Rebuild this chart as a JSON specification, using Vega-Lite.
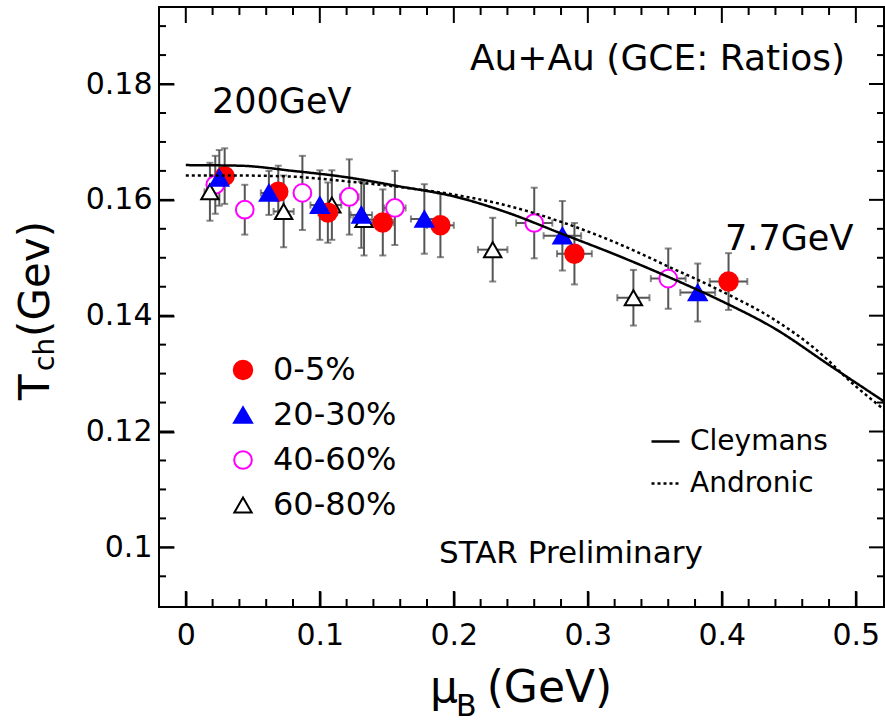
{
  "$schema": "https://vega.github.io/schema/vega-lite/v6.json",
  "width": 725,
  "height": 600,
  "autosize": {"type": "none"},
  "padding": {"left": 159, "top": 7, "right": 1, "bottom": 117},
  "background": "white",
  "config": {
    "font": "DejaVu Sans",
    "view": {"stroke": "black", "strokeWidth": 2}
  },
  "datasets": {
    "pts": [
      {"series": "40-60%", "mu": 0.022, "T": 0.1626, "muErr": 0.004, "TErr": 0.0050},
      {"series": "40-60%", "mu": 0.044, "T": 0.1583, "muErr": 0.005, "TErr": 0.0043},
      {"series": "40-60%", "mu": 0.087, "T": 0.1612, "muErr": 0.006, "TErr": 0.0064},
      {"series": "40-60%", "mu": 0.122, "T": 0.1605, "muErr": 0.007, "TErr": 0.0065},
      {"series": "40-60%", "mu": 0.156, "T": 0.1586, "muErr": 0.008, "TErr": 0.0064},
      {"series": "40-60%", "mu": 0.260, "T": 0.1560, "muErr": 0.0135, "TErr": 0.0061},
      {"series": "40-60%", "mu": 0.360, "T": 0.1464, "muErr": 0.013, "TErr": 0.0052},
      {"series": "60-80%", "mu": 0.018, "T": 0.1614, "muErr": 0.004, "TErr": 0.0050},
      {"series": "60-80%", "mu": 0.073, "T": 0.1580, "muErr": 0.0075, "TErr": 0.0062},
      {"series": "60-80%", "mu": 0.109, "T": 0.1591, "muErr": 0.007, "TErr": 0.0060},
      {"series": "60-80%", "mu": 0.133, "T": 0.1566, "muErr": 0.008, "TErr": 0.0062},
      {"series": "60-80%", "mu": 0.229, "T": 0.1514, "muErr": 0.011, "TErr": 0.0055},
      {"series": "60-80%", "mu": 0.334, "T": 0.1431, "muErr": 0.012, "TErr": 0.0048},
      {"series": "0-5%", "mu": 0.029, "T": 0.1641, "muErr": 0.004, "TErr": 0.0048},
      {"series": "0-5%", "mu": 0.069, "T": 0.1614, "muErr": 0.006, "TErr": 0.0045},
      {"series": "0-5%", "mu": 0.106, "T": 0.1578, "muErr": 0.007, "TErr": 0.0052},
      {"series": "0-5%", "mu": 0.147, "T": 0.1561, "muErr": 0.008, "TErr": 0.0057},
      {"series": "0-5%", "mu": 0.190, "T": 0.1556, "muErr": 0.010, "TErr": 0.0055},
      {"series": "0-5%", "mu": 0.290, "T": 0.1507, "muErr": 0.013, "TErr": 0.0053},
      {"series": "0-5%", "mu": 0.405, "T": 0.1459, "muErr": 0.014, "TErr": 0.0049},
      {"series": "20-30%", "mu": 0.025, "T": 0.1638, "muErr": 0.004, "TErr": 0.0048},
      {"series": "20-30%", "mu": 0.062, "T": 0.1612, "muErr": 0.006, "TErr": 0.0038},
      {"series": "20-30%", "mu": 0.100, "T": 0.1591, "muErr": 0.007, "TErr": 0.0060},
      {"series": "20-30%", "mu": 0.131, "T": 0.1574, "muErr": 0.008, "TErr": 0.0057},
      {"series": "20-30%", "mu": 0.178, "T": 0.1567, "muErr": 0.010, "TErr": 0.0060},
      {"series": "20-30%", "mu": 0.281, "T": 0.1538, "muErr": 0.014, "TErr": 0.0060},
      {"series": "20-30%", "mu": 0.382, "T": 0.1440, "muErr": 0.013, "TErr": 0.0050}
    ],
    "curves": [
      {"model": "Cleymans", "mu": 0.0, "T": 0.1660},
      {"model": "Cleymans", "mu": 0.04, "T": 0.1659},
      {"model": "Cleymans", "mu": 0.08, "T": 0.1650},
      {"model": "Cleymans", "mu": 0.12, "T": 0.1639},
      {"model": "Cleymans", "mu": 0.16, "T": 0.1623},
      {"model": "Cleymans", "mu": 0.20, "T": 0.1606},
      {"model": "Cleymans", "mu": 0.24, "T": 0.1578},
      {"model": "Cleymans", "mu": 0.28, "T": 0.1542},
      {"model": "Cleymans", "mu": 0.32, "T": 0.1506},
      {"model": "Cleymans", "mu": 0.36, "T": 0.1467},
      {"model": "Cleymans", "mu": 0.40, "T": 0.1425},
      {"model": "Cleymans", "mu": 0.44, "T": 0.1377},
      {"model": "Cleymans", "mu": 0.48, "T": 0.1315},
      {"model": "Cleymans", "mu": 0.521, "T": 0.1252},
      {"model": "Andronic", "mu": 0.0, "T": 0.1642},
      {"model": "Andronic", "mu": 0.04, "T": 0.1642},
      {"model": "Andronic", "mu": 0.08, "T": 0.1640},
      {"model": "Andronic", "mu": 0.12, "T": 0.1632},
      {"model": "Andronic", "mu": 0.16, "T": 0.1622},
      {"model": "Andronic", "mu": 0.20, "T": 0.1609},
      {"model": "Andronic", "mu": 0.24, "T": 0.1590},
      {"model": "Andronic", "mu": 0.28, "T": 0.1562},
      {"model": "Andronic", "mu": 0.32, "T": 0.1527},
      {"model": "Andronic", "mu": 0.36, "T": 0.1485},
      {"model": "Andronic", "mu": 0.40, "T": 0.1442},
      {"model": "Andronic", "mu": 0.44, "T": 0.1392},
      {"model": "Andronic", "mu": 0.47, "T": 0.1342},
      {"model": "Andronic", "mu": 0.50, "T": 0.1278},
      {"model": "Andronic", "mu": 0.521, "T": 0.1238}
    ],
    "xticks": [
      {"v": 0, "major": true}, {"v": 0.02, "major": false}, {"v": 0.04, "major": false}, {"v": 0.06, "major": false}, {"v": 0.08, "major": false},
      {"v": 0.1, "major": true}, {"v": 0.12, "major": false}, {"v": 0.14, "major": false}, {"v": 0.16, "major": false}, {"v": 0.18, "major": false},
      {"v": 0.2, "major": true}, {"v": 0.22, "major": false}, {"v": 0.24, "major": false}, {"v": 0.26, "major": false}, {"v": 0.28, "major": false},
      {"v": 0.3, "major": true}, {"v": 0.32, "major": false}, {"v": 0.34, "major": false}, {"v": 0.36, "major": false}, {"v": 0.38, "major": false},
      {"v": 0.4, "major": true}, {"v": 0.42, "major": false}, {"v": 0.44, "major": false}, {"v": 0.46, "major": false}, {"v": 0.48, "major": false},
      {"v": 0.5, "major": true}
    ],
    "yticks": [
      {"v": 0.095, "major": false}, {"v": 0.1, "major": true}, {"v": 0.105, "major": false}, {"v": 0.11, "major": false}, {"v": 0.115, "major": false},
      {"v": 0.12, "major": true}, {"v": 0.125, "major": false}, {"v": 0.13, "major": false}, {"v": 0.135, "major": false},
      {"v": 0.14, "major": true}, {"v": 0.145, "major": false}, {"v": 0.15, "major": false}, {"v": 0.155, "major": false},
      {"v": 0.16, "major": true}, {"v": 0.165, "major": false}, {"v": 0.17, "major": false}, {"v": 0.175, "major": false},
      {"v": 0.18, "major": true}, {"v": 0.185, "major": false}, {"v": 0.19, "major": false}
    ]
  },
  "resolve": {"axis": {"x": "independent", "y": "independent"}},
  "layer": [
    {
      "data": {"values": [{}]},
      "mark": {"type": "text", "text": "Au+Au (GCE: Ratios)", "align": "right", "baseline": "alphabetic", "fontSize": 36, "color": "black"},
      "encoding": {
        "x": {"datum": 0.4919, "type": "quantitative", "scale": {"domain": [-0.02, 0.521], "nice": false, "zero": false},
          "axis": {"orient": "bottom", "title": null, "values": [0, 0.1, 0.2, 0.3, 0.4, 0.5], "offset": -16, "tickSize": 16, "tickColor": "black", "tickWidth": 2, "ticks": true, "domain": false, "grid": false,
            "labelExpr": "format(datum.value, '.1~f')", "labelFont": "DejaVu Sans", "labelFontSize": 30, "labelColor": "black", "labelPadding": 13, "labelFlush": false, "labelOverlap": false, "labelBound": false}},
        "y": {"datum": 0.18242, "type": "quantitative", "scale": {"domain": [0.0897, 0.1933], "nice": false, "zero": false},
          "axis": {"orient": "left", "title": null, "values": [0.1, 0.12, 0.14, 0.16, 0.18], "offset": -15, "tickSize": 15, "tickColor": "black", "tickWidth": 2, "ticks": true, "domain": false, "grid": false,
            "labelExpr": "format(datum.value, '.2~f')", "labelFont": "DejaVu Sans", "labelFontSize": 30, "labelColor": "black", "labelPadding": 7, "labelFlush": false, "labelOverlap": false, "labelBound": false}}
      }
    },
    {
      "data": {"name": "xticks"},
      "mark": {"type": "tick", "orient": "vertical", "clip": true, "color": "black", "thickness": 2, "opacity": 1},
      "encoding": {
        "x": {"field": "v", "type": "quantitative", "scale": {"domain": [-0.02, 0.521], "nice": false, "zero": false}, "axis": null},
        "y": {"datum": 0.0897, "type": "quantitative", "scale": {"domain": [0.0897, 0.1933], "nice": false, "zero": false}, "axis": null},
        "size": {"condition": {"test": "datum.major", "value": 32}, "value": 16}
      }
    },
    {
      "data": {"name": "xticks"},
      "mark": {"type": "tick", "orient": "vertical", "clip": true, "color": "black", "thickness": 2, "opacity": 1},
      "encoding": {
        "x": {"field": "v", "type": "quantitative", "scale": {"domain": [-0.02, 0.521], "nice": false, "zero": false}, "axis": null},
        "y": {"datum": 0.1933, "type": "quantitative", "scale": {"domain": [0.0897, 0.1933], "nice": false, "zero": false}, "axis": null},
        "size": {"condition": {"test": "datum.major", "value": 32}, "value": 16}
      }
    },
    {
      "data": {"name": "yticks"},
      "mark": {"type": "tick", "orient": "horizontal", "clip": true, "color": "black", "thickness": 2, "opacity": 1},
      "encoding": {
        "x": {"datum": -0.02, "type": "quantitative", "scale": {"domain": [-0.02, 0.521], "nice": false, "zero": false}, "axis": null},
        "y": {"field": "v", "type": "quantitative", "scale": {"domain": [0.0897, 0.1933], "nice": false, "zero": false}, "axis": null},
        "size": {"condition": {"test": "datum.major", "value": 30}, "value": 14}
      }
    },
    {
      "data": {"name": "yticks"},
      "mark": {"type": "tick", "orient": "horizontal", "clip": true, "color": "black", "thickness": 2, "opacity": 1},
      "encoding": {
        "x": {"datum": 0.521, "type": "quantitative", "scale": {"domain": [-0.02, 0.521], "nice": false, "zero": false}, "axis": null},
        "y": {"field": "v", "type": "quantitative", "scale": {"domain": [0.0897, 0.1933], "nice": false, "zero": false}, "axis": null},
        "size": {"condition": {"test": "datum.major", "value": 30}, "value": 14}
      }
    },
    {
      "data": {"values": [{}]},
      "mark": {"type": "text", "text": "200GeV", "align": "left", "baseline": "alphabetic", "fontSize": 35, "color": "black"},
      "encoding": {
        "x": {"datum": 0.0196, "type": "quantitative", "scale": {"domain": [-0.02, 0.521], "nice": false, "zero": false}, "axis": null},
        "y": {"datum": 0.175, "type": "quantitative", "scale": {"domain": [0.0897, 0.1933], "nice": false, "zero": false}, "axis": null}
      }
    },
    {
      "data": {"values": [{}]},
      "mark": {"type": "text", "text": "7.7GeV", "align": "left", "baseline": "alphabetic", "fontSize": 35, "color": "black"},
      "encoding": {
        "x": {"datum": 0.4024, "type": "quantitative", "scale": {"domain": [-0.02, 0.521], "nice": false, "zero": false}, "axis": null},
        "y": {"datum": 0.15134, "type": "quantitative", "scale": {"domain": [0.0897, 0.1933], "nice": false, "zero": false}, "axis": null}
      }
    },
    {
      "data": {"values": [{}]},
      "mark": {"type": "text", "text": "STAR Preliminary", "align": "left", "baseline": "alphabetic", "fontSize": 31, "color": "black"},
      "encoding": {
        "x": {"datum": 0.1889, "type": "quantitative", "scale": {"domain": [-0.02, 0.521], "nice": false, "zero": false}, "axis": null},
        "y": {"datum": 0.0973, "type": "quantitative", "scale": {"domain": [0.0897, 0.1933], "nice": false, "zero": false}, "axis": null}
      }
    },
    {
      "data": {"name": "pts"},
      "mark": {"type": "errorbar", "color": "#555555", "thickness": 2, "ticks": {"size": 7, "color": "#555555"}},
      "encoding": {
        "x": {"field": "mu", "type": "quantitative", "scale": {"domain": [-0.02, 0.521], "nice": false, "zero": false}, "axis": null},
        "y": {"field": "T", "type": "quantitative", "scale": {"domain": [0.0897, 0.1933], "nice": false, "zero": false}, "axis": null},
        "yError": {"field": "TErr"}
      }
    },
    {
      "data": {"name": "pts"},
      "mark": {"type": "errorbar", "color": "#555555", "thickness": 2, "ticks": {"size": 7, "color": "#555555"}},
      "encoding": {
        "x": {"field": "mu", "type": "quantitative", "scale": {"domain": [-0.02, 0.521], "nice": false, "zero": false}, "axis": null},
        "xError": {"field": "muErr"},
        "y": {"field": "T", "type": "quantitative", "scale": {"domain": [0.0897, 0.1933], "nice": false, "zero": false}, "axis": null}
      }
    },
    {
      "data": {"name": "pts"},
      "mark": {"type": "point", "opacity": 1, "strokeWidth": 2},
      "encoding": {
        "x": {"field": "mu", "type": "quantitative", "scale": {"domain": [-0.02, 0.521], "nice": false, "zero": false}, "axis": null},
        "y": {"field": "T", "type": "quantitative", "scale": {"domain": [0.0897, 0.1933], "nice": false, "zero": false}, "axis": null},
        "shape": {"field": "series", "type": "nominal", "scale": {"domain": ["0-5%", "20-30%", "40-60%", "60-80%"], "range": ["circle", "triangle-up", "circle", "triangle-up"]},
          "legend": {"orient": "none", "legendX": 68, "legendY": 347, "title": null, "labelFontSize": 32, "labelFont": "DejaVu Sans", "labelColor": "black", "rowPadding": 13, "labelOffset": 14, "padding": 0, "symbolStrokeWidth": 2, "symbolOpacity": 1}},
        "stroke": {"field": "series", "type": "nominal", "scale": {"domain": ["0-5%", "20-30%", "40-60%", "60-80%"], "range": ["#ff0000", "#0000ff", "#ff00ff", "#000000"]}},
        "fill": {"field": "series", "type": "nominal", "scale": {"domain": ["0-5%", "20-30%", "40-60%", "60-80%"], "range": ["#ff0000", "#0000ff", "#ffffff", "#ffffff"]}},
        "size": {"field": "series", "type": "nominal", "scale": {"domain": ["0-5%", "20-30%", "40-60%", "60-80%"], "range": [340, 300, 400, 484]}}
      }
    },
    {
      "data": {"name": "curves"},
      "mark": {"type": "line", "color": "black", "strokeWidth": 2.5, "interpolate": "monotone"},
      "encoding": {
        "x": {"field": "mu", "type": "quantitative", "scale": {"domain": [-0.02, 0.521], "nice": false, "zero": false}, "axis": null},
        "y": {"field": "T", "type": "quantitative", "scale": {"domain": [0.0897, 0.1933], "nice": false, "zero": false}, "axis": null},
        "strokeDash": {"field": "model", "type": "nominal", "scale": {"domain": ["Cleymans", "Andronic"], "range": [[1, 0], [3, 3]]},
          "legend": {"orient": "none", "legendX": 491, "legendY": 419, "title": null, "labelFontSize": 28, "labelFont": "DejaVu Sans", "labelColor": "black", "symbolType": "stroke", "symbolSize": 784, "symbolStrokeWidth": 2.5, "symbolStrokeColor": "black", "rowPadding": 12, "labelOffset": 9, "padding": 0}}
      }
    },
    {
      "data": {"values": [{}]},
      "mark": {"type": "text", "text": "μ", "align": "left", "baseline": "alphabetic", "fontSize": 44, "color": "black"},
      "encoding": {
        "x": {"datum": 0.1822, "type": "quantitative", "scale": {"domain": [-0.02, 0.521], "nice": false, "zero": false}, "axis": null},
        "y": {"datum": 0.0733, "type": "quantitative", "scale": {"domain": [0.0897, 0.1933], "nice": false, "zero": false}, "axis": null}
      }
    },
    {
      "data": {"values": [{}]},
      "mark": {"type": "text", "text": "B", "align": "left", "baseline": "alphabetic", "fontSize": 30, "color": "black"},
      "encoding": {
        "x": {"datum": 0.2016, "type": "quantitative", "scale": {"domain": [-0.02, 0.521], "nice": false, "zero": false}, "axis": null},
        "y": {"datum": 0.0708, "type": "quantitative", "scale": {"domain": [0.0897, 0.1933], "nice": false, "zero": false}, "axis": null}
      }
    },
    {
      "data": {"values": [{}]},
      "mark": {"type": "text", "text": "(GeV)", "align": "left", "baseline": "alphabetic", "fontSize": 44, "color": "black"},
      "encoding": {
        "x": {"datum": 0.2245, "type": "quantitative", "scale": {"domain": [-0.02, 0.521], "nice": false, "zero": false}, "axis": null},
        "y": {"datum": 0.0733, "type": "quantitative", "scale": {"domain": [0.0897, 0.1933], "nice": false, "zero": false}, "axis": null}
      }
    },
    {
      "data": {"values": [{}]},
      "mark": {"type": "text", "text": "T", "align": "left", "baseline": "alphabetic", "angle": 270, "fontSize": 42, "color": "black"},
      "encoding": {
        "x": {"datum": -0.1021, "type": "quantitative", "scale": {"domain": [-0.02, 0.521], "nice": false, "zero": false}, "axis": null},
        "y": {"datum": 0.12544, "type": "quantitative", "scale": {"domain": [0.0897, 0.1933], "nice": false, "zero": false}, "axis": null}
      }
    },
    {
      "data": {"values": [{}]},
      "mark": {"type": "text", "text": "ch", "align": "left", "baseline": "alphabetic", "angle": 270, "fontSize": 28, "color": "black"},
      "encoding": {
        "x": {"datum": -0.09835, "type": "quantitative", "scale": {"domain": [-0.02, 0.521], "nice": false, "zero": false}, "axis": null},
        "y": {"datum": 0.13045, "type": "quantitative", "scale": {"domain": [0.0897, 0.1933], "nice": false, "zero": false}, "axis": null}
      }
    },
    {
      "data": {"values": [{}]},
      "mark": {"type": "text", "text": "(Gev)", "align": "left", "baseline": "alphabetic", "angle": 270, "fontSize": 42, "color": "black"},
      "encoding": {
        "x": {"datum": -0.1021, "type": "quantitative", "scale": {"domain": [-0.02, 0.521], "nice": false, "zero": false}, "axis": null},
        "y": {"datum": 0.13632, "type": "quantitative", "scale": {"domain": [0.0897, 0.1933], "nice": false, "zero": false}, "axis": null}
      }
    }
  ]
}
